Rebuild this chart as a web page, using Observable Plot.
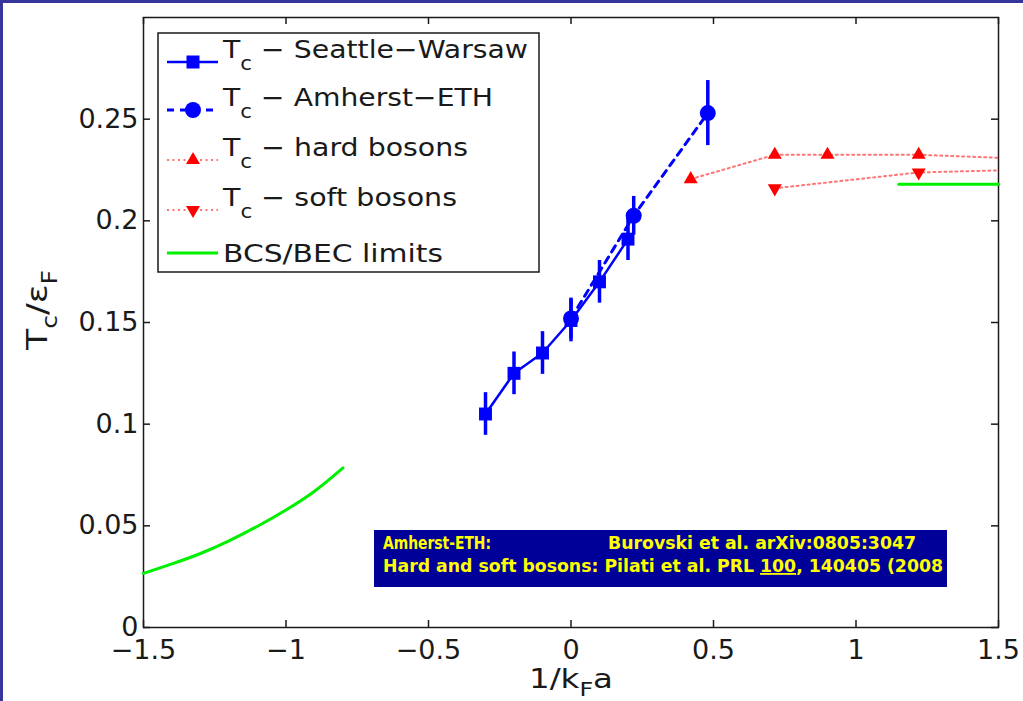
<!DOCTYPE html>
<html><head><meta charset="utf-8">
<script src="https://cdn.jsdelivr.net/npm/d3@7"></script>
<script src="https://cdn.jsdelivr.net/npm/@observablehq/plot@0.6"></script>
<style>
body{margin:0;background:#fff;}
#wrap{position:relative;width:1023px;height:701px;overflow:hidden;background:#fff;}
#wrap svg{position:absolute;left:0;top:0;}
.bd{position:absolute;background:#35359a;}
</style></head><body><div id="wrap"></div>
<script>
// ---- data ----
const xTicks = [-1.5, -1, -0.5, 0, 0.5, 1, 1.5];
const yTicks = [0, 0.05, 0.1, 0.15, 0.2, 0.25];

const swX = [-0.3, -0.2, -0.1, 0, 0.1, 0.2];
const swY = [0.105, 0.125, 0.135, 0.151, 0.170, 0.191];
const swErr = [0.0105, 0.0105, 0.0105, 0.0105, 0.0105, 0.0105];

const ethX = [0, 0.22, 0.48];
const ethY = [0.152, 0.2025, 0.253];
const ethErr = [0.010, 0.0095, 0.016];

const hardX = [0.42, 0.715, 0.9, 1.22, 1.5];
const hardY = [0.2205, 0.2325, 0.2325, 0.2325, 0.231];

const softX = [0.715, 1.22, 1.5];
const softY = [0.216, 0.2238, 0.2248];

const bcsX = [-1.5, -1.4, -1.3, -1.2, -1.1, -1.0, -0.9, -0.8];
const bcsY = [0.0266, 0.0313, 0.0364, 0.0426, 0.0498, 0.0578, 0.0670, 0.0785];

const becX = [1.15, 1.5];
const becY = [0.218, 0.218];

const legendLabels = ["Seattle\u2212Warsaw", "Amherst\u2212ETH", "hard bosons", "soft bosons", "BCS/BEC limits"];
const noteLine1 = ["Amherst-ETH:", "Burovski et al. arXiv:0805:3047"];
const noteLine2 = ["Hard and soft bosons: Pilati et al. PRL ", "100", ", 140405 (2008"];

// ---- tables ----
const tbl = (xs, ys, es) => xs.map((x, i) => ({x, y: ys[i], e: es ? es[i] : 0}));
const sw = tbl(swX, swY, swErr);
const eth = tbl(ethX, ethY, ethErr);
const hard = tbl(hardX, hardY);
const soft = tbl(softX, softY);
const bcs = tbl(bcsX, bcsY);
const bec = tbl(becX, becY);

const W = 1023, H = 701, mL = 143, mR = 25, mT = 17, mB = 74;
const innerW = W - mL - mR, innerH = H - mT - mB;
const fmt = d => (d < 0 ? "\u2212" : "") + Math.abs(d);
const BLUE = "#0000ff", RED = "#ff0000", GREEN = "#00f000", INK = "#1a1a1a";

const plot = Plot.plot({
  width: W, height: H,
  marginLeft: mL, marginRight: mR, marginTop: mT, marginBottom: mB,
  style: {fontFamily: "'DejaVu Sans', sans-serif", fontSize: "27px", color: INK, background: "transparent"},
  x: {domain: [-1.5, 1.5]},
  y: {domain: [0, 0.3]},
  marks: [
    Plot.frame({stroke: INK, strokeWidth: 1.5}),
    Plot.tickX(xTicks, {x: d => d, insetTop: innerH - 7, stroke: INK, strokeWidth: 1.5}),
    Plot.tickX(xTicks, {x: d => d, insetBottom: innerH - 7, stroke: INK, strokeWidth: 1.5}),
    Plot.tickY(yTicks, {y: d => d, insetRight: innerW - 7, stroke: INK, strokeWidth: 1.5}),
    Plot.tickY(yTicks, {y: d => d, insetLeft: innerW - 7, stroke: INK, strokeWidth: 1.5}),
    Plot.axisX(xTicks, {tickSize: 0, tickPadding: 12, tickFormat: fmt, label: null, fontSize: 27, fill: INK}),
    Plot.axisY(yTicks, {tickSize: 0, tickPadding: 5, tickFormat: fmt, label: null, fontSize: 27, fill: INK}),
    Plot.line(bcs, {x: "x", y: "y", stroke: GREEN, strokeWidth: 3, curve: "natural"}),
    Plot.line(bec, {x: "x", y: "y", stroke: GREEN, strokeWidth: 3}),
    Plot.line(hard, {x: "x", y: "y", stroke: RED, strokeWidth: 2, strokeDasharray: "2,3.5", strokeOpacity: 0.55}),
    Plot.line(soft, {x: "x", y: "y", stroke: RED, strokeWidth: 2, strokeDasharray: "2,3.5", strokeOpacity: 0.55}),
    Plot.dot(hard.filter(d => d.x < 1.5), {x: "x", y: "y", symbol: "triangle", fill: RED, r: 5.2}),
    Plot.dot(soft.filter(d => d.x < 1.5), {x: "x", y: "y", symbol: "triangle", fill: RED, r: 5.2, rotate: 180}),
    Plot.line(eth, {x: "x", y: "y", stroke: BLUE, strokeWidth: 3, strokeDasharray: "7,6"}),
    Plot.line(sw, {x: "x", y: "y", stroke: BLUE, strokeWidth: 2.5}),
    Plot.ruleX(sw, {x: "x", y1: d => d.y - d.e, y2: d => d.y + d.e, stroke: BLUE, strokeWidth: 3.5}),
    Plot.ruleX(eth, {x: "x", y1: d => d.y - d.e, y2: d => d.y + d.e, stroke: BLUE, strokeWidth: 3.5}),
    Plot.dot(sw, {x: "x", y: "y", symbol: "square", fill: BLUE, r: 7.3}),
    Plot.dot(eth, {x: "x", y: "y", symbol: "circle", fill: BLUE, r: 8})
  ]
});

const wrap = document.getElementById("wrap");
wrap.appendChild(plot);
const svg = d3.select(plot);
const FONT = "'DejaVu Sans', sans-serif";

// axis labels
const yl = svg.append("text").attr("transform", "translate(47,310) rotate(-90)")
  .attr("text-anchor", "middle").attr("fill", INK).style("font-family", FONT).style("font-size", "29px")
  .attr("textLength", 80).attr("lengthAdjust", "spacingAndGlyphs");
yl.append("tspan").text("T");
yl.append("tspan").attr("dy", 10).style("font-size", "21px").text("c");
yl.append("tspan").attr("dy", -10).text("/\u03b5");
yl.append("tspan").attr("dy", 10).style("font-size", "21px").text("F");

const xl = svg.append("text").attr("transform", "translate(571,688)")
  .attr("text-anchor", "middle").attr("fill", INK).style("font-family", FONT).style("font-size", "26px")
  .attr("textLength", 84).attr("lengthAdjust", "spacingAndGlyphs");
xl.append("tspan").text("1/k");
xl.append("tspan").attr("dy", 8).style("font-size", "19px").text("F");
xl.append("tspan").attr("dy", -8).text("a");

// legend
const lg = svg.append("g").attr("text-anchor", "start");
lg.append("rect").attr("x", 158).attr("y", 33).attr("width", 381).attr("height", 239)
  .attr("fill", "#fff").attr("stroke", INK).attr("stroke-width", 1.5);
const rows = [62, 110, 160, 210, 253];
const rowLen = [305, 270, 245, 234, 220];
const sx1 = 167, sx2 = 218, sc = 193;
lg.append("line").attr("x1", sx1).attr("x2", sx2).attr("y1", rows[0]).attr("y2", rows[0]).attr("stroke", BLUE).attr("stroke-width", 2.5);
lg.append("rect").attr("x", sc - 6.5).attr("y", rows[0] - 6.5).attr("width", 13).attr("height", 13).attr("fill", BLUE);
lg.append("line").attr("x1", sx1).attr("x2", sx2).attr("y1", rows[1]).attr("y2", rows[1]).attr("stroke", BLUE).attr("stroke-width", 3).attr("stroke-dasharray", "7,6");
lg.append("circle").attr("cx", sc).attr("cy", rows[1]).attr("r", 8).attr("fill", BLUE);
lg.append("line").attr("x1", sx1).attr("x2", sx2).attr("y1", rows[2]).attr("y2", rows[2]).attr("stroke", RED).attr("stroke-width", 2).attr("stroke-dasharray", "2,3.5").attr("stroke-opacity", 0.55);
lg.append("path").attr("d", d3.symbol(d3.symbolTriangle, 85)()).attr("transform", `translate(${sc},${rows[2]})`).attr("fill", RED);
lg.append("line").attr("x1", sx1).attr("x2", sx2).attr("y1", rows[3]).attr("y2", rows[3]).attr("stroke", RED).attr("stroke-width", 2).attr("stroke-dasharray", "2,3.5").attr("stroke-opacity", 0.55);
lg.append("path").attr("d", d3.symbol(d3.symbolTriangle, 85)()).attr("transform", `translate(${sc},${rows[3]}) rotate(180)`).attr("fill", RED);
lg.append("line").attr("x1", sx1).attr("x2", sx2).attr("y1", rows[4]).attr("y2", rows[4]).attr("stroke", GREEN).attr("stroke-width", 3);
legendLabels.forEach((lab, i) => {
  const t = lg.append("text").attr("x", 223).attr("text-anchor", "start").attr("fill", INK)
    .style("font-family", FONT).style("font-size", "25px")
    .attr("textLength", rowLen[i]).attr("lengthAdjust", "spacingAndGlyphs");
  if (i < 4) {
    t.attr("y", rows[i] - 4);
    t.append("tspan").text("T");
    t.append("tspan").attr("dy", 12).style("font-size", "19px").text("c");
    t.append("tspan").attr("dy", -12).text(" \u2212 " + lab);
  } else {
    t.attr("y", rows[i] + 9).text(lab);
  }
});

// citation note
const nt = svg.append("g").attr("text-anchor", "start");
nt.append("rect").attr("x", 374).attr("y", 530).attr("width", 573).attr("height", 57).attr("fill", "#000099");
const nStyle = t => t.attr("fill", "#ffff00").attr("text-anchor", "start")
  .style("font-family", "'DejaVu Sans Condensed','DejaVu Sans',sans-serif")
  .style("font-weight", "bold").style("font-size", "18px").attr("lengthAdjust", "spacingAndGlyphs");
nStyle(nt.append("text").attr("x", 383).attr("y", 549).attr("textLength", 108).text(noteLine1[0]));
nStyle(nt.append("text").attr("x", 608).attr("y", 549).attr("textLength", 308).text(noteLine1[1]));
const l2 = nStyle(nt.append("text").attr("x", 383).attr("y", 572).attr("textLength", 560));
l2.append("tspan").text(noteLine2[0]);
l2.append("tspan").style("text-decoration", "underline").text(noteLine2[1]);
l2.append("tspan").text(noteLine2[2]);

// slide frame edges
const edgeTop = document.createElement("div"); edgeTop.className = "bd";
Object.assign(edgeTop.style, {left: "0px", top: "0px", width: "1023px", height: "3px"});
const edgeLeft = document.createElement("div"); edgeLeft.className = "bd";
Object.assign(edgeLeft.style, {left: "0px", top: "0px", width: "3px", height: "701px"});
wrap.appendChild(edgeTop); wrap.appendChild(edgeLeft);
</script></body></html>
